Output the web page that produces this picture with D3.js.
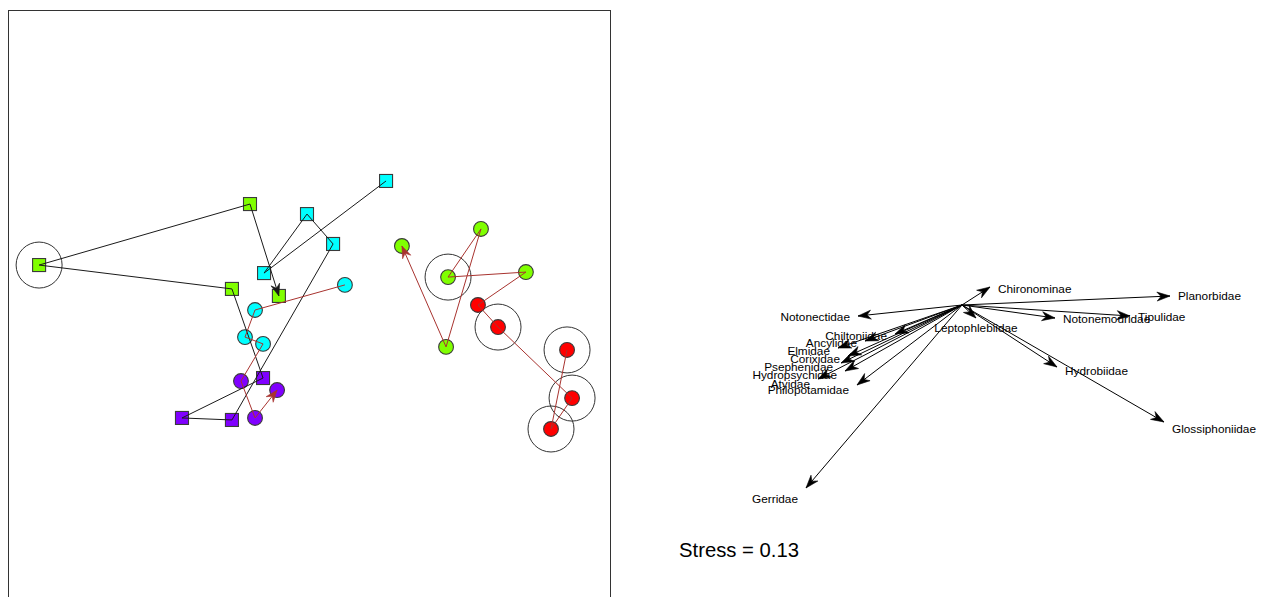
<!DOCTYPE html>
<html>
<head>
<meta charset="utf-8">
<script src="https://cdn.jsdelivr.net/npm/d3@7"></script>
<style>
  body { margin: 0; background: #fff; }
  svg { display: block; }
  text { font-family: "Liberation Sans", Arial, Helvetica, sans-serif; }
</style>
</head>
<body>
<svg id="chart" width="1265" height="597"></svg>
<script>
// Sampling periods coloured with rainbow(4)
const periodColors = ["#FF0000", "#80FF00", "#00FFFF", "#8000FF"];

// Site trajectory A (squares, black connectors): NMDS scores in visiting order
const nmds1A = [0.384, -0.224, -0.010, 0.120, -0.384, -0.633, -0.229, -0.384, -1.345, -0.294, -0.150];
const nmds2A = [0.648, 0.189, 0.483, 0.334, -0.543, -0.533, -0.334, 0.110, 0.229, 0.533, 0.075];
const periodA = [2, 2, 2, 2, 3, 3, 3, 1, 1, 1, 1];
const flagA   = [0, 0, 0, 0, 0, 0, 0, 0, 1, 0, 0];

// Site trajectory B (circles, brown connectors)
const nmds1B = [0.179, -0.269, -0.319, -0.229, -0.339, -0.269, -0.159];
const nmds2B = [0.130, 0.005, -0.130, -0.164, -0.349, -0.533, -0.394];
const periodB = [2, 2, 2, 2, 3, 3, 3];
const flagB   = [0, 0, 0, 0, 0, 0, 0];

// Site trajectory C (circles, brown connectors)
const nmds1C = [1.286, 1.206, 1.311, 0.942, 0.842, 1.081, 0.693, 0.857, 0.683, 0.463];
const nmds2C = [-0.194, -0.588, -0.434, -0.080, 0.030, 0.194, 0.169, 0.409, -0.179, 0.324];
const periodC = [0, 0, 0, 0, 0, 1, 1, 1, 1, 1];
const flagC   = [1, 1, 1, 1, 0, 0, 1, 0, 0, 0];

// Fitted taxon vectors
const taxa = ["Chironominae", "Planorbidae", "Tipulidae", "Notonemouridae", "Hydrobiidae",
  "Glossiphoniidae", "Leptophlebiidae", "Gerridae", "Notonectidae", "Chiltoniidae",
  "Ancylidae", "Elmidae", "Corixidae", "Psephenidae", "Hydropsychidae", "Atyidae", "Philopotamidae"];
const vecX = [0.14, 1.04, 0.84, 0.465, 0.475, 1.01, 0.07, -0.78, -0.52, -0.335,
  -0.485, -0.62, -0.57, -0.605, -0.585, -0.72, -0.525];
const vecY = [0.09, 0.045, -0.055, -0.065, -0.31, -0.585, -0.065, -0.915, -0.055, -0.145,
  -0.18, -0.215, -0.255, -0.29, -0.33, -0.37, -0.40];

const stressValue = 0.13;

const svg = d3.select("#chart");

// ---------- left panel: site ordination with trajectories ----------
const xL = d3.scaleLinear().domain([-1.5, 1.5]).range([8, 610]);
const yL = d3.scaleLinear().domain([-1.5, 1.5]).range([612, 10]);

const left = svg.append("g");
left.append("rect")
  .attr("x", 8.5).attr("y", 10.5).attr("width", 602).attr("height", 700)
  .attr("fill", "none").attr("stroke", "#333").attr("stroke-width", 1);

function arrowHead(g, x0, y0, x1, y1, len, half, notch, color) {
  const a = Math.atan2(y1 - y0, x1 - x0);
  const c = Math.cos(a), s = Math.sin(a);
  const bx = x1 - len * c, by = y1 - len * s;
  const nx = x1 - notch * c, ny = y1 - notch * s;
  const p = [[x1, y1], [bx - half * s, by + half * c], [nx, ny], [bx + half * s, by - half * c]];
  g.append("path").attr("d", "M" + p.map(d => d.join(",")).join("L") + "Z")
    .attr("fill", color).attr("stroke", color).attr("stroke-width", 0.6)
    .attr("stroke-linejoin", "miter");
}

const trajectories = [
  { x: nmds1A, y: nmds2A, p: periodA, f: flagA, shape: "square", line: "#1a1a1a" },
  { x: nmds1B, y: nmds2B, p: periodB, f: flagB, shape: "circle", line: "#a8332f" },
  { x: nmds1C, y: nmds2C, p: periodC, f: flagC, shape: "circle", line: "#a8332f" }
];

// rings around flagged samples
trajectories.forEach(t => {
  t.x.forEach((v, i) => {
    if (!t.f[i]) return;
    left.append("circle")
      .attr("cx", xL(v)).attr("cy", yL(t.y[i])).attr("r", 23)
      .attr("fill", "none").attr("stroke", "#333").attr("stroke-width", 1);
  });
});

// sample markers
trajectories.forEach(t => {
  t.x.forEach((v, i) => {
    const cx = xL(v), cy = yL(t.y[i]);
    if (t.shape === "square") {
      left.append("rect").attr("x", cx - 6.5).attr("y", cy - 6.5)
        .attr("width", 13).attr("height", 13)
        .attr("fill", periodColors[t.p[i]]).attr("stroke", "#3a3a3a").attr("stroke-width", 1.1);
    } else {
      left.append("circle").attr("cx", cx).attr("cy", cy).attr("r", 7.4)
        .attr("fill", periodColors[t.p[i]]).attr("stroke", "#3a3a3a").attr("stroke-width", 1.1);
    }
  });
});

// connectors, with an arrowhead on the last step
trajectories.forEach(t => {
  const n = t.x.length;
  for (let i = 0; i < n - 1; i++) {
    const x0 = xL(t.x[i]), y0 = yL(t.y[i]), x1 = xL(t.x[i + 1]), y1 = yL(t.y[i + 1]);
    left.append("line").attr("x1", x0).attr("y1", y0).attr("x2", x1).attr("y2", y1)
      .attr("stroke", t.line).attr("stroke-width", 1);
    if (i === n - 2) arrowHead(left, x0, y0, x1, y1, 12, 4.5, 8, t.line);
  }
});

// ---------- right panel: taxon vectors ----------
const xR = d3.scaleLinear().domain([-1, 1]).range([762, 1162]);
const yR = d3.scaleLinear().domain([-1, 1]).range([505, 105]);
const right = svg.append("g");
const ox = xR(0), oy = yR(0);

taxa.forEach((name, i) => {
  const tx = xR(vecX[i]), ty = yR(vecY[i]);
  right.append("line").attr("x1", ox).attr("y1", oy).attr("x2", tx).attr("y2", ty)
    .attr("stroke", "#000").attr("stroke-width", 1);
  arrowHead(right, ox, oy, tx, ty, 13, 4.5, 9, "#000");
});

taxa.forEach((name, i) => {
  const tx = xR(vecX[i]), ty = yR(vecY[i]);
  const dx = tx - ox, dy = ty - oy;
  let lx, ly, anchor;
  if (Math.abs(dx) < 20) {
    anchor = "middle"; lx = tx; ly = ty + Math.sign(dy) * 10;
  } else {
    anchor = dx > 0 ? "start" : "end";
    lx = tx + Math.sign(dx) * 8;
    ly = ty + 0.06 * dy + (dy < 0 ? Math.min(3, 5 * Math.abs(dy / dx)) : 0);
  }
  right.append("text").attr("x", lx).attr("y", ly).attr("dy", "0.35em")
    .attr("text-anchor", anchor).attr("font-size", "11.8px").attr("fill", "#000")
    .text(name);
});

svg.append("text").attr("x", 679).attr("y", 557)
  .attr("font-size", "20.3px").attr("fill", "#000")
  .text("Stress = " + stressValue.toFixed(2));
</script>
</body>
</html>
